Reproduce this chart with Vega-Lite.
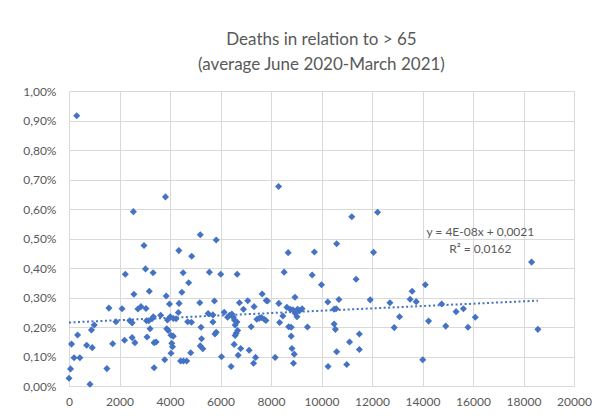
{
  "$schema": "https://vega.github.io/schema/vega-lite/v6.json",
  "autosize": {"type": "none"},
  "padding": {"left": 69, "top": 91, "right": 33, "bottom": 30},
  "width": 505,
  "height": 295,
  "background": "white",
  "title": {
    "text": ["Deaths in relation to > 65", "(average June 2020-March 2021)"],
    "font": "Lato",
    "fontSize": 17,
    "fontWeight": "normal",
    "color": "#595959",
    "lineHeight": 25,
    "anchor": "middle",
    "offset": 11
  },
  "config": {
    "view": {"stroke": null},
    "axis": {
      "labelFont": "Lato",
      "labelFontSize": 12,
      "labelColor": "#595959",
      "gridColor": "#d9d9d9",
      "gridWidth": 1,
      "domain": false,
      "ticks": false,
      "title": null
    }
  },
  "datasets": {
    "pts": [
      {"x": 305, "y": 0.00916}, {"x": 0, "y": 0.00026}, {"x": 60, "y": 0.00058}, {"x": 100, "y": 0.00142},
      {"x": 200, "y": 0.00096}, {"x": 340, "y": 0.00173}, {"x": 430, "y": 0.00096}, {"x": 830, "y": 0.00006},
      {"x": 700, "y": 0.00138}, {"x": 890, "y": 0.0019}, {"x": 920, "y": 0.0013}, {"x": 1000, "y": 0.00207},
      {"x": 1500, "y": 0.00059}, {"x": 1580, "y": 0.00264}, {"x": 1730, "y": 0.00143}, {"x": 1860, "y": 0.00218},
      {"x": 2100, "y": 0.00262}, {"x": 2200, "y": 0.00155}, {"x": 2230, "y": 0.00379}, {"x": 2410, "y": 0.00221},
      {"x": 2500, "y": 0.00214}, {"x": 2500, "y": 0.00164}, {"x": 2550, "y": 0.00591}, {"x": 2570, "y": 0.00311},
      {"x": 2610, "y": 0.00147}, {"x": 2730, "y": 0.00261}, {"x": 2850, "y": 0.00269}, {"x": 2970, "y": 0.00476},
      {"x": 3030, "y": 0.00397}, {"x": 3050, "y": 0.00263}, {"x": 3070, "y": 0.00221}, {"x": 3090, "y": 0.00166},
      {"x": 3160, "y": 0.00221}, {"x": 3180, "y": 0.00321}, {"x": 3210, "y": 0.00194}, {"x": 3290, "y": 0.00228},
      {"x": 3330, "y": 0.00384}, {"x": 3340, "y": 0.00235}, {"x": 3370, "y": 0.00147}, {"x": 3370, "y": 0.00062},
      {"x": 3450, "y": 0.00149}, {"x": 3630, "y": 0.0024}, {"x": 3790, "y": 0.00089}, {"x": 3820, "y": 0.00641},
      {"x": 3850, "y": 0.00305}, {"x": 3870, "y": 0.00194}, {"x": 3900, "y": 0.00224}, {"x": 3930, "y": 0.00188},
      {"x": 3980, "y": 0.00278}, {"x": 4010, "y": 0.00235}, {"x": 4040, "y": 0.00111}, {"x": 4040, "y": 0.00172},
      {"x": 4070, "y": 0.00145}, {"x": 4100, "y": 0.00133}, {"x": 4130, "y": 0.00169}, {"x": 4130, "y": 0.00229},
      {"x": 4240, "y": 0.00228}, {"x": 4330, "y": 0.00249}, {"x": 4350, "y": 0.00459}, {"x": 4360, "y": 0.0028},
      {"x": 4420, "y": 0.00085}, {"x": 4470, "y": 0.00318}, {"x": 4520, "y": 0.00384}, {"x": 4530, "y": 0.00085},
      {"x": 4660, "y": 0.00085}, {"x": 4700, "y": 0.00218}, {"x": 4740, "y": 0.0035}, {"x": 4820, "y": 0.00113},
      {"x": 4850, "y": 0.00216}, {"x": 4860, "y": 0.0044},
      {"x": 5200, "y": 0.00513}, {"x": 5180, "y": 0.00282}, {"x": 5230, "y": 0.00199}, {"x": 5200, "y": 0.00136},
      {"x": 5300, "y": 0.00126}, {"x": 5250, "y": 0.0016}, {"x": 5510, "y": 0.00246}, {"x": 5700, "y": 0.00241},
      {"x": 5700, "y": 0.00217}, {"x": 5760, "y": 0.00288}, {"x": 5780, "y": 0.00176}, {"x": 5830, "y": 0.00182},
      {"x": 5830, "y": 0.00495}, {"x": 5560, "y": 0.00386}, {"x": 6010, "y": 0.00379}, {"x": 6040, "y": 0.00099},
      {"x": 6145, "y": 0.0025}, {"x": 6280, "y": 0.00233}, {"x": 6360, "y": 0.0024}, {"x": 6450, "y": 0.00244},
      {"x": 6510, "y": 0.00233}, {"x": 6550, "y": 0.00224}, {"x": 6580, "y": 0.00207}, {"x": 6650, "y": 0.00217},
      {"x": 6620, "y": 0.00179}, {"x": 6680, "y": 0.00188}, {"x": 6580, "y": 0.00171}, {"x": 6420, "y": 0.00066},
      {"x": 6540, "y": 0.00141}, {"x": 6660, "y": 0.00379}, {"x": 6700, "y": 0.00104}, {"x": 6750, "y": 0.00282},
      {"x": 6800, "y": 0.00127}, {"x": 6910, "y": 0.0026}, {"x": 7080, "y": 0.00289}, {"x": 7135, "y": 0.00121},
      {"x": 7215, "y": 0.00201}, {"x": 7330, "y": 0.00269}, {"x": 7310, "y": 0.00077}, {"x": 7390, "y": 0.00097},
      {"x": 7440, "y": 0.00226}, {"x": 7540, "y": 0.0023}, {"x": 7620, "y": 0.00232}, {"x": 7730, "y": 0.00226},
      {"x": 7800, "y": 0.00222}, {"x": 7650, "y": 0.00312}, {"x": 7810, "y": 0.0029}, {"x": 7860, "y": 0.00288},
      {"x": 8165, "y": 0.00097}, {"x": 8300, "y": 0.00676}, {"x": 8310, "y": 0.0028}, {"x": 8340, "y": 0.00215},
      {"x": 8470, "y": 0.00237}, {"x": 8520, "y": 0.00386}, {"x": 8630, "y": 0.00267}, {"x": 8680, "y": 0.00452},
      {"x": 8700, "y": 0.00201}, {"x": 8800, "y": 0.00199}, {"x": 8760, "y": 0.0026}, {"x": 8870, "y": 0.00258},
      {"x": 8950, "y": 0.00301}, {"x": 8970, "y": 0.00246}, {"x": 9030, "y": 0.00235}, {"x": 9050, "y": 0.0026},
      {"x": 9130, "y": 0.00255}, {"x": 9230, "y": 0.00262}, {"x": 8800, "y": 0.00169}, {"x": 8830, "y": 0.00127},
      {"x": 8920, "y": 0.00108}, {"x": 8890, "y": 0.00077}, {"x": 9445, "y": 0.002}, {"x": 9630, "y": 0.00376},
      {"x": 9720, "y": 0.00454}, {"x": 10000, "y": 0.00343}, {"x": 10250, "y": 0.00285}, {"x": 10260, "y": 0.00066},
      {"x": 10500, "y": 0.0021}, {"x": 10550, "y": 0.00192}, {"x": 10500, "y": 0.0026}, {"x": 10580, "y": 0.00262},
      {"x": 10690, "y": 0.00293}, {"x": 10600, "y": 0.00116}, {"x": 10600, "y": 0.00482}, {"x": 11000, "y": 0.00073},
      {"x": 11110, "y": 0.00149}, {"x": 11200, "y": 0.00574}, {"x": 11370, "y": 0.00362}, {"x": 11500, "y": 0.00176},
      {"x": 11500, "y": 0.00124}, {"x": 11930, "y": 0.00292}, {"x": 12060, "y": 0.00453}, {"x": 12220, "y": 0.00589},
      {"x": 12710, "y": 0.00282}, {"x": 12880, "y": 0.00198}, {"x": 13090, "y": 0.00235}, {"x": 13510, "y": 0.00294},
      {"x": 13590, "y": 0.00321}, {"x": 13750, "y": 0.00286}, {"x": 14010, "y": 0.00089}, {"x": 14110, "y": 0.00343},
      {"x": 14240, "y": 0.0022}, {"x": 14760, "y": 0.00278}, {"x": 14920, "y": 0.00203}, {"x": 15330, "y": 0.00252},
      {"x": 15620, "y": 0.00262}, {"x": 15800, "y": 0.00199}, {"x": 16090, "y": 0.00233}, {"x": 18320, "y": 0.0042},
      {"x": 18570, "y": 0.00192}
    ],
    "eq": [
      {"x": 16290, "y": 0.00523, "label": "y = 4E-08x + 0,0021"},
      {"x": 16290, "y": 0.00463, "label": "R² = 0,0162"}
    ]
  },
  "encoding": {
    "x": {
      "field": "x", "type": "quantitative",
      "scale": {"domain": [0, 20000], "nice": false, "zero": true},
      "axis": {"values": [0, 2000, 4000, 6000, 8000, 10000, 12000, 14000, 16000, 18000, 20000], "format": "d", "labelPadding": 10, "labelFlush": false}
    },
    "y": {
      "field": "y", "type": "quantitative",
      "scale": {"domain": [0, 0.01], "nice": false},
      "axis": {"values": [0, 0.001, 0.002, 0.003, 0.004, 0.005, 0.006, 0.007, 0.008, 0.009, 0.01], "labelExpr": "replace(format(datum.value, '.2%'), '.', ',')", "labelPadding": 13}
    }
  },
  "layer": [
    {
      "data": {"name": "pts"},
      "mark": {"type": "point", "shape": "diamond", "filled": true, "size": 50, "color": "#4472C4", "opacity": 1}
    },
    {
      "data": {"name": "pts"},
      "transform": [{"regression": "y", "on": "x"}],
      "mark": {"type": "line", "color": "#4472C4", "strokeWidth": 2, "strokeDash": [2, 2.5]}
    },
    {
      "data": {"name": "eq"},
      "mark": {"type": "text", "font": "Lato", "fontSize": 12, "color": "#595959", "align": "center", "baseline": "middle"},
      "encoding": {"text": {"field": "label"}}
    }
  ]
}
